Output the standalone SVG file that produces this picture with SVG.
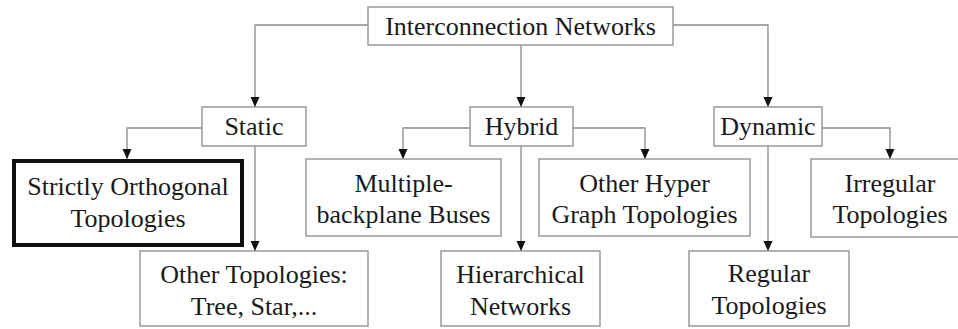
<svg xmlns="http://www.w3.org/2000/svg" width="958" height="329" viewBox="0 0 958 329">
  <style>
    .box { fill: #ffffff; stroke: #9a9a9a; stroke-width: 1.5; }
    .bold { fill: #ffffff; stroke: #111111; stroke-width: 4; }
    .lbl { font-size: 26px; fill: #1a1a1a; text-anchor: middle; }
    .edge { fill: none; stroke: #8a8a8a; stroke-width: 1.3; marker-end: url(#arr); }
  </style>
  <defs>
    <marker id="arr" markerUnits="userSpaceOnUse" markerWidth="10" markerHeight="10" refX="10" refY="4.5" orient="auto">
      <path d="M0,0 L10,4.5 L0,9 z" fill="#111111"/>
    </marker>
  </defs>
  <rect width="958" height="329" fill="#ffffff"/>

  <g id="connectors">
    <path class="edge" d="M368,25 H255 V107"/>
    <path class="edge" d="M521,45 V107"/>
    <path class="edge" d="M673,25 H768 V107"/>
    <path class="edge" d="M202,128 H127 V159"/>
    <path class="edge" d="M255,146 V251"/>
    <path class="edge" d="M470,128 H403 V159"/>
    <path class="edge" d="M521,146 V251"/>
    <path class="edge" d="M573,128 H645 V159"/>
    <path class="edge" d="M822,128 H890 V159"/>
    <path class="edge" d="M768,146 V251"/>
  </g>

  <g id="nodes" font-family="Liberation Serif, DejaVu Serif, Times New Roman, serif">
  <g id="interconnection">
    <rect class="box" x="368" y="7" width="305" height="38"/>
    <text class="lbl" x="520.5" y="35">Interconnection Networks</text>
  </g>
  <g id="static">
    <rect class="box" x="202" y="107" width="104" height="39"/>
    <text class="lbl" x="254" y="135">Static</text>
  </g>
  <g id="hybrid">
    <rect class="box" x="470" y="107" width="103" height="39"/>
    <text class="lbl" x="521.5" y="135">Hybrid</text>
  </g>
  <g id="dynamic">
    <rect class="box" x="714" y="107" width="108" height="39"/>
    <text class="lbl" x="768" y="135">Dynamic</text>
  </g>
  <g id="strictly">
    <rect class="bold" x="14" y="161" width="228" height="84"/>
    <text class="lbl" x="128" y="195">Strictly Orthogonal</text>
    <text class="lbl" x="128" y="227">Topologies</text>
  </g>
  <g id="multiple">
    <rect class="box" x="306" y="159" width="195" height="77"/>
    <text class="lbl" x="403.5" y="192">Multiple-</text>
    <text class="lbl" x="403.5" y="223">backplane Buses</text>
  </g>
  <g id="hyper">
    <rect class="box" x="539" y="159" width="211" height="77"/>
    <text class="lbl" x="644.5" y="192">Other Hyper</text>
    <text class="lbl" x="644.5" y="223">Graph Topologies</text>
  </g>
  <g id="irregular">
    <rect class="box" x="811" y="159" width="150" height="78"/>
    <text class="lbl" x="890" y="192">Irregular</text>
    <text class="lbl" x="890" y="223">Topologies</text>
  </g>
  <g id="other">
    <rect class="box" x="140" y="251" width="228" height="75"/>
    <text class="lbl" x="254" y="283">Other Topologies:</text>
    <text class="lbl" x="254" y="315">Tree, Star,...</text>
  </g>
  <g id="hierarchical">
    <rect class="box" x="441" y="251" width="159" height="75"/>
    <text class="lbl" x="520.5" y="283">Hierarchical</text>
    <text class="lbl" x="520.5" y="315">Networks</text>
  </g>
  <g id="regular">
    <rect class="box" x="689" y="251" width="160" height="75"/>
    <text class="lbl" x="769" y="282">Regular</text>
    <text class="lbl" x="769" y="314">Topologies</text>
  </g>
  </g>
</svg>
